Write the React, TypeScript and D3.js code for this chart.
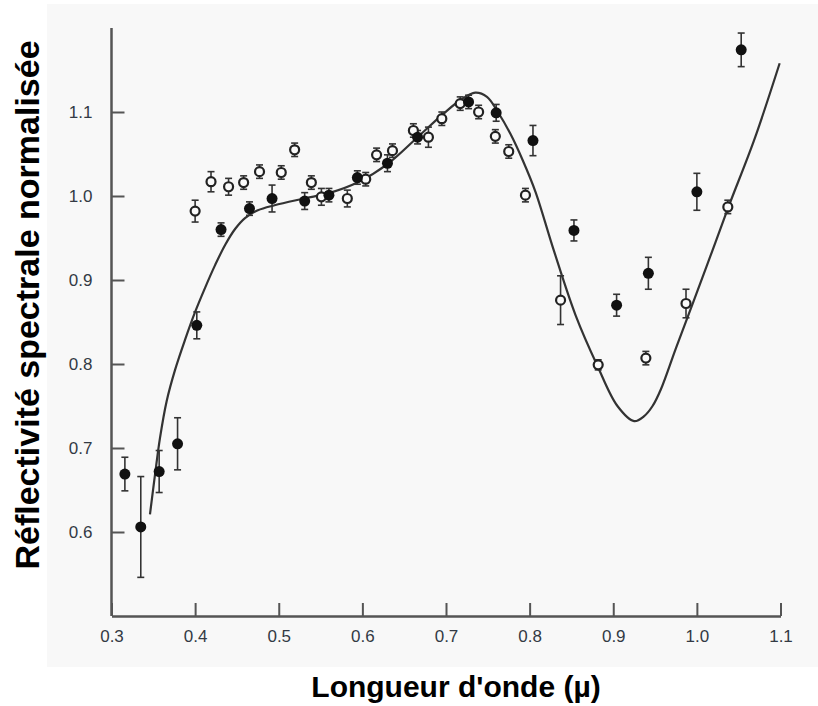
import React, { useEffect, useRef } from "react";
import * as d3 from "d3";

// Filled markers: wavelength (µm), normalised reflectance, 1-sigma error
const filledWave = [0.316, 0.335, 0.357, 0.379, 0.402, 0.431, 0.465, 0.492, 0.531, 0.56, 0.594, 0.63, 0.666, 0.727, 0.76, 0.804, 0.853, 0.904, 0.942, 1.0, 1.053];
const filledRefl = [0.669, 0.606, 0.672, 0.705, 0.846, 0.96, 0.985, 0.997, 0.994, 1.001, 1.022, 1.039, 1.07, 1.112, 1.099, 1.066, 0.959, 0.87, 0.908, 1.005, 1.174];
const filledErr = [0.02, 0.06, 0.025, 0.031, 0.016, 0.008, 0.008, 0.016, 0.01, 0.008, 0.008, 0.01, 0.008, 0.008, 0.01, 0.018, 0.0125, 0.013, 0.019, 0.022, 0.02];

// Open markers
const openWave = [0.4, 0.419, 0.44, 0.458, 0.477, 0.503, 0.519, 0.539, 0.551, 0.582, 0.604, 0.617, 0.636, 0.661, 0.679, 0.695, 0.717, 0.739, 0.759, 0.775, 0.795, 0.837, 0.882, 0.939, 0.987, 1.037];
const openRefl = [0.982, 1.017, 1.011, 1.016, 1.029, 1.028, 1.055, 1.016, 0.999, 0.997, 1.02, 1.049, 1.054, 1.078, 1.07, 1.092, 1.11, 1.1, 1.071, 1.053, 1.001, 0.876, 0.799, 0.807, 0.872, 0.987];
const openErr = [0.013, 0.012, 0.01, 0.008, 0.008, 0.008, 0.008, 0.008, 0.01, 0.01, 0.008, 0.008, 0.008, 0.008, 0.012, 0.008, 0.008, 0.008, 0.008, 0.008, 0.008, 0.029, 0.006, 0.008, 0.017, 0.008];

// Model spectrum
const modelWave = [0.346, 0.352, 0.358, 0.366, 0.376, 0.388, 0.4, 0.412, 0.424, 0.436, 0.448, 0.46, 0.475, 0.495, 0.53, 0.562, 0.594, 0.63, 0.666, 0.697, 0.717, 0.735, 0.749, 0.762, 0.777, 0.792, 0.807, 0.829, 0.855, 0.881, 0.905, 0.925, 0.937, 0.947, 0.957, 0.975, 0.995, 1.016, 1.037, 1.069, 1.099];
const modelRefl = [0.621, 0.668, 0.712, 0.756, 0.793, 0.829, 0.862, 0.891, 0.918, 0.942, 0.961, 0.974, 0.983, 0.989, 0.997, 1.004, 1.016, 1.038, 1.07, 1.098, 1.114, 1.123, 1.118, 1.1, 1.074, 1.042, 1.005, 0.935, 0.858, 0.798, 0.75, 0.732, 0.738, 0.75, 0.77, 0.819, 0.872, 0.928, 0.985, 1.068, 1.158];

const xTicks = [0.3, 0.4, 0.5, 0.6, 0.7, 0.8, 0.9, 1.0, 1.1];
const yTicks = [0.6, 0.7, 0.8, 0.9, 1.0, 1.1];

const W = 818;
const H = 706;
const FONT = "'Liberation Sans', Arial, Helvetica, sans-serif";

export default function App() {
  const ref = useRef<SVGSVGElement | null>(null);

  useEffect(() => {
    const svg = d3.select(ref.current);
    svg.selectAll("*").remove();

    const x = d3.scaleLinear().domain([0.3, 1.1]).range([111.5, 780.5]);
    const y = d3.scaleLinear().domain([0.5, 1.2]).range([616, 28]);

    svg.append("rect").attr("x", 47).attr("y", 4).attr("width", W - 47).attr("height", 663).attr("fill", "#f8f8f8");

    // axes with inward ticks
    const yAxis = d3.axisLeft(y).tickValues(yTicks).tickFormat(d3.format(".1f")).tickSizeInner(-13).tickSizeOuter(0).tickPadding(19);
    const gy = svg.append("g").attr("transform", `translate(${x(0.3)},0)`).call(yAxis);
    const xAxis = d3.axisBottom(x).tickValues(xTicks).tickFormat(d3.format(".1f")).tickSizeInner(-13).tickSizeOuter(0).tickPadding(14);
    const gx = svg.append("g").attr("transform", `translate(0,${y(0.5)})`).call(xAxis);

    [gx, gy].forEach((g) => {
      g.select(".domain").attr("stroke", "#555").attr("stroke-width", 2.5);
      g.selectAll(".tick line").attr("stroke", "#555").attr("stroke-width", 2);
      g.selectAll(".tick text").attr("font-family", FONT).attr("font-size", 17).attr("fill", "#333a44");
    });
    gy.select(".domain").attr("d", `M0,${y(0.5)}V${y(1.2)}`);

    // model curve
    const line = d3
      .line<number>()
      .x((_, i) => x(modelWave[i]))
      .y((d) => y(d))
      .curve(d3.curveCatmullRom.alpha(0.5));
    svg.append("path").attr("d", line(modelRefl)).attr("fill", "none").attr("stroke", "#333").attr("stroke-width", 2.2);

    const drawErr = (wave: number[], refl: number[], err: number[]) => {
      const g = svg.append("g").attr("stroke", "#333").attr("stroke-width", 1.6);
      wave.forEach((w, i) => {
        const cx = x(w);
        const y0 = y(refl[i] - err[i]);
        const y1 = y(refl[i] + err[i]);
        g.append("line").attr("x1", cx).attr("x2", cx).attr("y1", y0).attr("y2", y1);
        g.append("line").attr("x1", cx - 3.5).attr("x2", cx + 3.5).attr("y1", y0).attr("y2", y0);
        g.append("line").attr("x1", cx - 3.5).attr("x2", cx + 3.5).attr("y1", y1).attr("y2", y1);
      });
    };
    drawErr(openWave, openRefl, openErr);
    drawErr(filledWave, filledRefl, filledErr);

    svg
      .append("g")
      .selectAll("circle")
      .data(openWave)
      .join("circle")
      .attr("cx", (d) => x(d))
      .attr("cy", (_, i) => y(openRefl[i]))
      .attr("r", 4.5)
      .attr("fill", "#fafafa")
      .attr("stroke", "#222")
      .attr("stroke-width", 2.2);

    svg
      .append("g")
      .selectAll("circle")
      .data(filledWave)
      .join("circle")
      .attr("cx", (d) => x(d))
      .attr("cy", (_, i) => y(filledRefl[i]))
      .attr("r", 5.5)
      .attr("fill", "#111");

    // titles
    svg
      .append("text")
      .attr("transform", `translate(39,${305}) rotate(-90)`)
      .attr("text-anchor", "middle")
      .attr("font-family", FONT)
      .attr("font-weight", "bold")
      .attr("font-size", 34)
      .attr("fill", "#000")
      .text("Réflectivité spectrale normalisée");

    svg
      .append("text")
      .attr("x", 456)
      .attr("y", 697)
      .attr("text-anchor", "middle")
      .attr("font-family", FONT)
      .attr("font-weight", "bold")
      .attr("font-size", 30)
      .attr("fill", "#000")
      .text("Longueur d'onde (µ)");
  }, []);

  return (
    <svg
      ref={ref}
      width={W}
      height={H}
      viewBox={`0 0 ${W} ${H}`}
      style={{ position: "absolute", left: 0, top: 0, display: "block", background: "#fff" }}
    />
  );
}
